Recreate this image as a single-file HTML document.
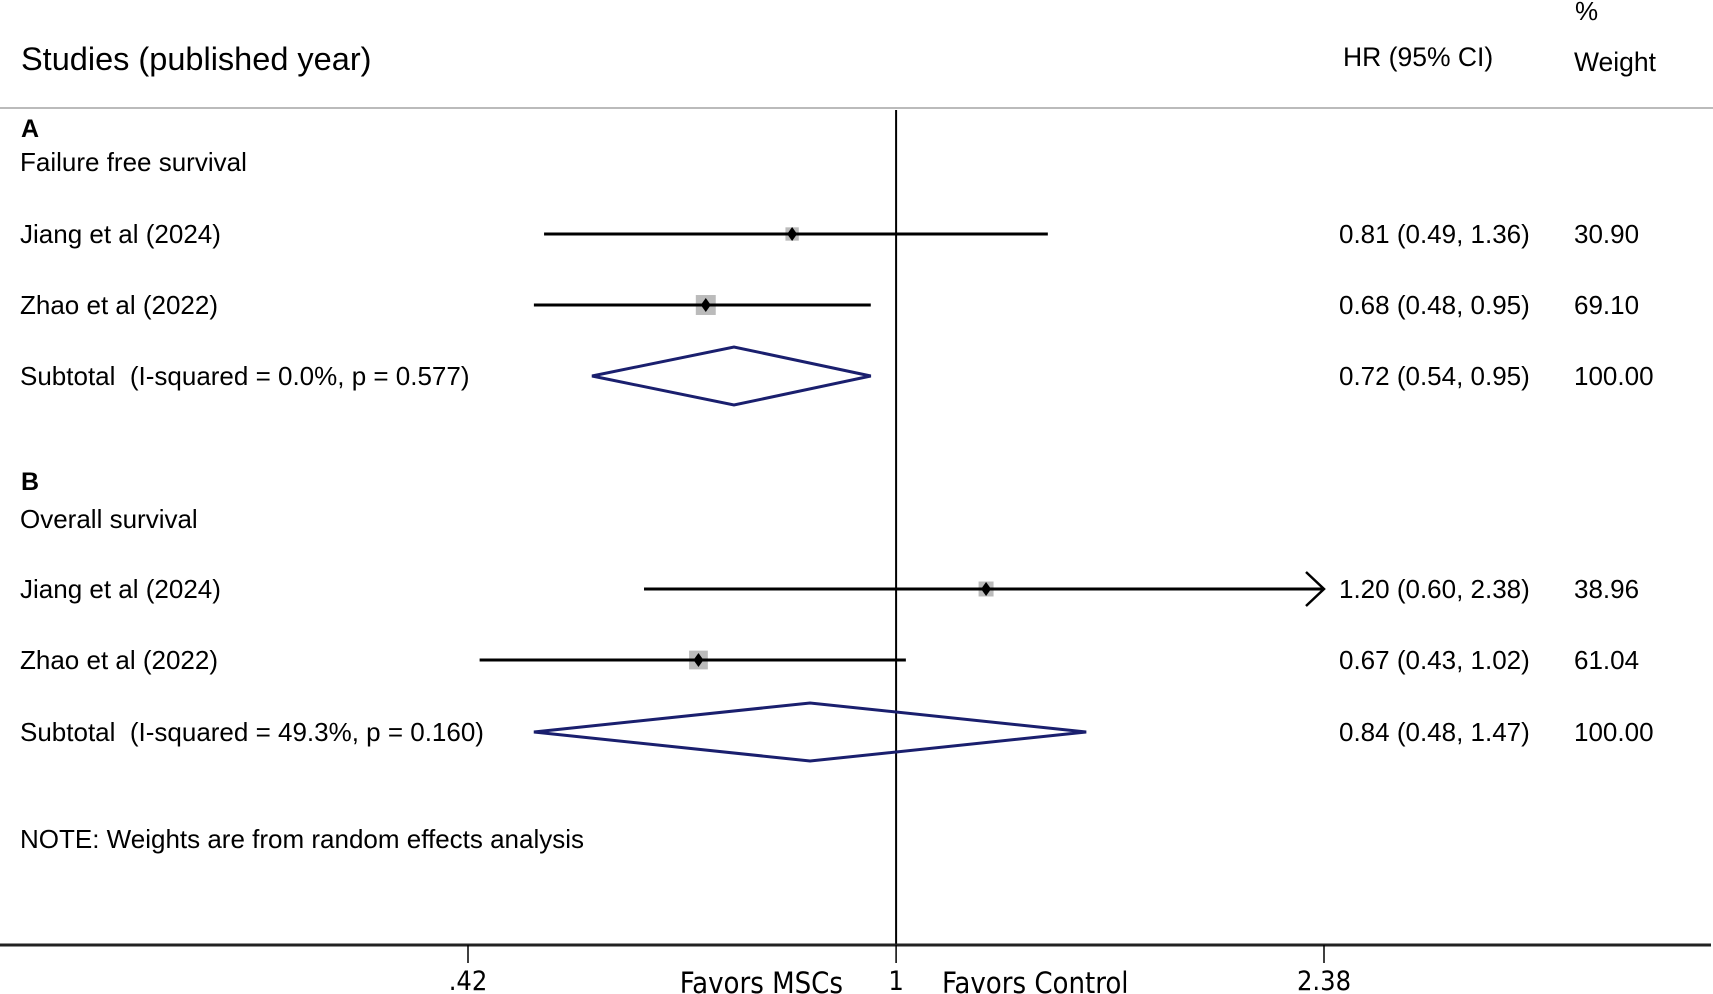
<!DOCTYPE html>
<html><head><meta charset="utf-8"><style>
html,body{margin:0;padding:0;background:#fff;}
svg{display:block;font-family:"Liberation Sans",sans-serif;}
text{white-space:pre;}
</style></head><body>
<svg id="chart" width="1713" height="994" viewBox="0 0 1713 994">
<g id="static">
<text x="21" y="70" font-size="32.5">Studies (published year)</text>
<text x="1343" y="66" font-size="26.5">HR (95% CI)</text>
<text x="1575" y="20" font-size="26">%</text>
<text x="1574" y="71" font-size="26.5">Weight</text>
<line x1="0" y1="108" x2="1713" y2="108" stroke="#bbb" stroke-width="2"/>
<text x="21" y="137" font-size="25" font-weight="bold">A</text>
<text x="20" y="171" font-size="26">Failure free survival</text>
<text x="21" y="490" font-size="25" font-weight="bold">B</text>
<text x="20" y="528" font-size="26">Overall survival</text>
<text x="20" y="848" font-size="26">NOTE: Weights are from random effects analysis</text>
</g>
<g id="marks"></g>
</svg>
<script>
const labels = ["Jiang et al (2024)","Zhao et al (2022)","Subtotal  (I-squared = 0.0%, p = 0.577)","Jiang et al (2024)","Zhao et al (2022)","Subtotal  (I-squared = 49.3%, p = 0.160)"];
const hr = [0.81,0.68,0.72,1.20,0.67,0.84];
const lo = [0.49,0.48,0.54,0.60,0.43,0.48];
const hi = [1.36,0.95,0.95,2.38,1.02,1.47];
const weights = [30.90,69.10,100.00,38.96,61.04,100.00];
const isSubtotal = [false,false,true,false,false,true];
const ticks = [0.42,1,2.38];
const tickLabels = [".42","1","2.38"];

const NS="http://www.w3.org/2000/svg";
const g=document.getElementById('marks');
const rowY=[234,305,376,589,660,732];
const xMin=0.42,xMax=2.38,px0=468,px1=1324;
function xs(v){return px0+(Math.log(v)-Math.log(xMin))/(Math.log(xMax)-Math.log(xMin))*(px1-px0);}
function mk(t,a){const e=document.createElementNS(NS,t);for(const k in a)e.setAttribute(k,a[k]);g.appendChild(e);return e;}
const x1=xs(1);
const condensed='"DejaVu Sans Condensed","Liberation Sans Narrow",sans-serif';
let e;
e=mk('line',{x1:x1,y1:110,x2:x1,y2:945,stroke:'#000','stroke-width':2});


e=mk('line',{x1:0,y1:945,x2:1711,y2:945,stroke:'#222','stroke-width':3});


ticks.forEach((t,i)=>{
 const x=xs(t);
 e=mk('line',{x1:x,y1:945,x2:x,y2:963,stroke:'#000','stroke-width':1.5});
 
 
 e=mk('text',{x:x,y:990,'font-size':27,'text-anchor':'middle','font-family':condensed});
 e.textContent=tickLabels[i];
 
 
});
e=mk('text',{x:843,y:993,'font-size':29,'text-anchor':'end','font-family':condensed});
e.textContent='Favors MSCs';


e=mk('text',{x:942,y:993,'font-size':29,'font-family':condensed});
e.textContent='Favors Control';



labels.forEach((lab,i)=>{
 const y=rowY[i];
 e=mk('text',{x:20,y:y+9,'font-size':26});
 e.textContent=lab;
 
 
 e=mk('text',{x:1339,y:y+9,'font-size':26});
 e.textContent=hr[i].toFixed(2)+' ('+lo[i].toFixed(2)+', '+hi[i].toFixed(2)+')';
 
 
 e=mk('text',{x:1574,y:y+9,'font-size':26});
 e.textContent=weights[i].toFixed(2);
 
 
 const xl=xs(Math.max(lo[i],xMin)),xh=xs(Math.min(hi[i],xMax)),xc=xs(hr[i]);
 if(isSubtotal[i]){
  e=mk('polygon',{points:`${xl},${y} ${xc},${y-29} ${xh},${y} ${xc},${y+29}`,fill:'none',stroke:'#1a1f6e','stroke-width':3});
  
  
 } else {
  const s=2.4*Math.sqrt(weights[i]);
  e=mk('rect',{x:xc-s/2,y:y-s/2,width:s,height:s,fill:'#bbb'});
  
  
  e=mk('line',{x1:xl,y1:y,x2:xh,y2:y,stroke:'#000','stroke-width':3});
  
  
  if(hi[i]>=xMax){
   e=mk('polyline',{points:`${xh-18},${y-17} ${xh},${y} ${xh-18},${y+17}`,fill:'none',stroke:'#000','stroke-width':2.5});
   
   
  }
  e=mk('polygon',{points:`${xc},${y-7} ${xc+5},${y} ${xc},${y+7} ${xc-5},${y}`,fill:'#000'});
  
  
 }
});
</script>
</body></html>
